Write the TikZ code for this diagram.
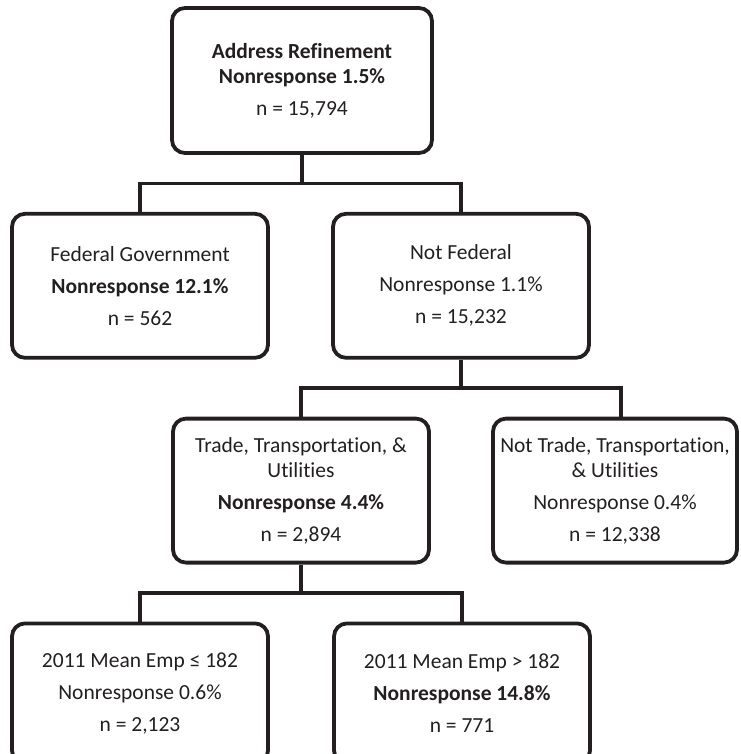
\documentclass[tikz,border=0pt]{standalone}
\usepackage{fontspec}
\setmainfont{Carlito}[Ligatures=NoCommon]
\usepackage{tikz}
\usetikzlibrary{positioning}

\definecolor{ink}{RGB}{35,31,32}
\tikzset{
  box/.style={draw=ink, text=ink, line width=3.8pt, rounded corners=13pt,
    minimum width=256pt, minimum height=144pt, inner sep=2pt, align=center,
    font=\fontsize{21.5}{25}\selectfont},
  bus/.style={draw=ink, line width=3.8pt}
}

\begin{document}
\begin{tikzpicture}
  \useasboundingbox (0pt,0pt) rectangle (740pt,-754pt);
  \node(root) [box, minimum width=260pt, minimum height=145pt] at (302pt,-80.5pt)
    {\textbf{Address Refinement}\\\textbf{Nonresponse 1.5\%}\\[7pt]n = 15,794};
  \node(fed) [box, below=57pt of root, xshift=-162pt]
    {Federal Government\\[7pt]\textbf{Nonresponse 12.1\%}\\[7pt]n = 562};
  \node(nfed) [box, below=57pt of root, xshift=159pt]
    {Not Federal\\[7pt]Nonresponse 1.1\%\\[7pt]n = 15,232};
  \node(ttu) [box, below=57pt of nfed, xshift=-160pt]
    {Trade, Transportation, \&\\Utilities\\[7pt]\textbf{Nonresponse 4.4\%}\\[7pt]n = 2,894};
  \node(nttu) [box, minimum width=244pt, below=57pt of nfed, xshift=154pt]
    {Not Trade, Transportation,\\\& Utilities\\[7pt]Nonresponse 0.4\%\\[7pt]n = 12,338};
  \node(small) [box, minimum height=140pt, below=57pt of ttu, xshift=-161pt]
    {2011 Mean Emp ≤ 182\\[7pt]Nonresponse 0.6\%\\[7pt]n = 2,123};
  \node(big) [box, minimum height=140pt, below=57pt of ttu, xshift=161pt]
    {2011 Mean Emp > 182\\[7pt]\textbf{Nonresponse 14.8\%}\\[7pt]n = 771};
  \draw[bus] (root.south) -- ++(0,-28.5pt) -| (fed.north);
  \draw[bus] (root.south) -- ++(0,-28.5pt) -| (nfed.north);
  \draw[bus] (nfed.south) -- ++(0,-28.5pt) -| (ttu.north);
  \draw[bus] (nfed.south) -- ++(0,-28.5pt) -| ([xshift=6pt]nttu.north);
  \draw[bus] (ttu.south) -- ++(0,-28.5pt) -| (small.north);
  \draw[bus] (ttu.south) -- ++(0,-28.5pt) -| (big.north);
\end{tikzpicture}
\end{document}
